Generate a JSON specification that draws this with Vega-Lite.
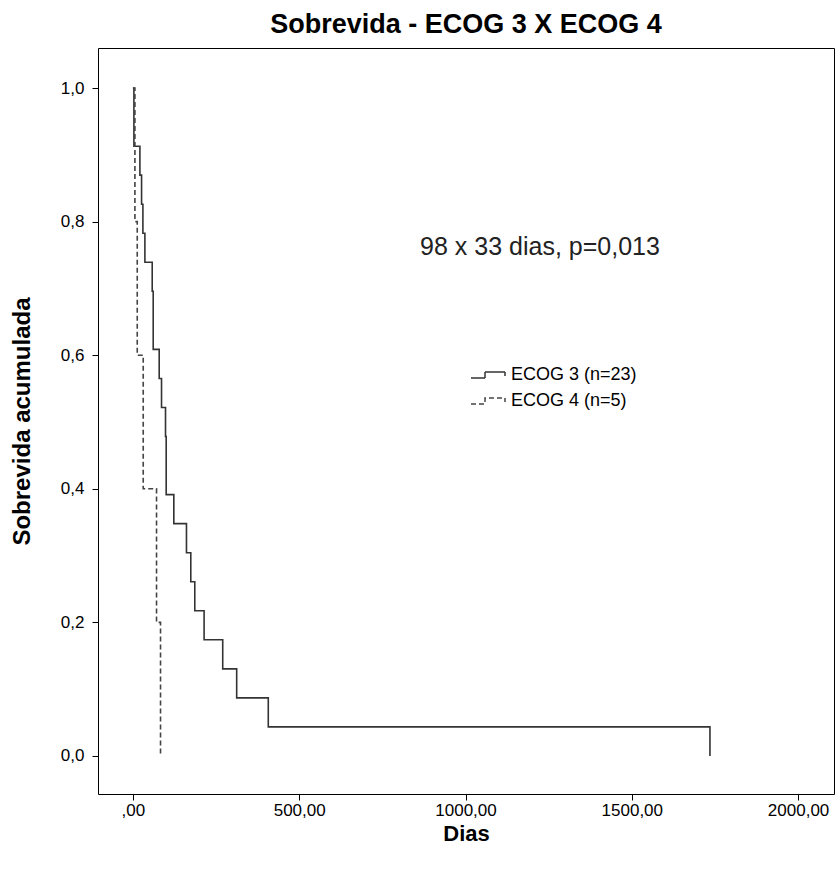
{
  "$schema": "https://vega.github.io/schema/vega-lite/v6.json",
  "width": 736,
  "height": 746,
  "autosize": {"type": "none"},
  "padding": {"left": 98, "top": 48, "right": 1, "bottom": 79},
  "background": "white",
  "config": {"font": "Liberation Sans", "view": {"stroke": "#000", "strokeWidth": 1}},
  "title": {"text": "Sobrevida - ECOG 3 X ECOG 4", "fontSize": 27, "fontWeight": "bold", "color": "#000", "anchor": "middle", "offset": 9},
  "layer": [
    {
      "data": {"values": [
        {"grupo": "ECOG 3 (n=23)", "dias": 0, "sobrevida": 1},
        {"grupo": "ECOG 3 (n=23)", "dias": 3, "sobrevida": 0.913},
        {"grupo": "ECOG 3 (n=23)", "dias": 21, "sobrevida": 0.8696},
        {"grupo": "ECOG 3 (n=23)", "dias": 26, "sobrevida": 0.8261},
        {"grupo": "ECOG 3 (n=23)", "dias": 30, "sobrevida": 0.7826},
        {"grupo": "ECOG 3 (n=23)", "dias": 36, "sobrevida": 0.7391},
        {"grupo": "ECOG 3 (n=23)", "dias": 58, "sobrevida": 0.6957},
        {"grupo": "ECOG 3 (n=23)", "dias": 61, "sobrevida": 0.6087},
        {"grupo": "ECOG 3 (n=23)", "dias": 79, "sobrevida": 0.5652},
        {"grupo": "ECOG 3 (n=23)", "dias": 86, "sobrevida": 0.5217},
        {"grupo": "ECOG 3 (n=23)", "dias": 98, "sobrevida": 0.4783},
        {"grupo": "ECOG 3 (n=23)", "dias": 100, "sobrevida": 0.3913},
        {"grupo": "ECOG 3 (n=23)", "dias": 123, "sobrevida": 0.3478},
        {"grupo": "ECOG 3 (n=23)", "dias": 161, "sobrevida": 0.3043},
        {"grupo": "ECOG 3 (n=23)", "dias": 174, "sobrevida": 0.2609},
        {"grupo": "ECOG 3 (n=23)", "dias": 186, "sobrevida": 0.2174},
        {"grupo": "ECOG 3 (n=23)", "dias": 214, "sobrevida": 0.1739},
        {"grupo": "ECOG 3 (n=23)", "dias": 270, "sobrevida": 0.1304},
        {"grupo": "ECOG 3 (n=23)", "dias": 312, "sobrevida": 0.087},
        {"grupo": "ECOG 3 (n=23)", "dias": 407, "sobrevida": 0.0435},
        {"grupo": "ECOG 3 (n=23)", "dias": 1735, "sobrevida": 0},
        {"grupo": "ECOG 4 (n=5)", "dias": 0, "sobrevida": 1},
        {"grupo": "ECOG 4 (n=5)", "dias": 6, "sobrevida": 0.8},
        {"grupo": "ECOG 4 (n=5)", "dias": 13, "sobrevida": 0.6},
        {"grupo": "ECOG 4 (n=5)", "dias": 31, "sobrevida": 0.4},
        {"grupo": "ECOG 4 (n=5)", "dias": 71, "sobrevida": 0.2},
        {"grupo": "ECOG 4 (n=5)", "dias": 83, "sobrevida": 0}
      ]},
      "mark": {"type": "line", "interpolate": "step-after", "strokeWidth": 1.6},
      "encoding": {
        "x": {
          "field": "dias", "type": "quantitative",
          "scale": {"domain": [-105, 2108], "nice": false, "zero": false},
          "axis": {
            "title": "Dias", "values": [0, 500, 1000, 1500, 2000],
            "labelExpr": "datum.value == 0 ? ',00' : replace(format(datum.value, '.2f'), '.', ',')",
            "grid": false, "domain": false, "tickSize": 6, "tickColor": "#000", "tickWidth": 1,
            "labelFontSize": 17, "labelColor": "#000", "labelPadding": 2,
            "titleFontSize": 22, "titleFontWeight": "bold", "titleColor": "#000", "titlePadding": 5
          }
        },
        "y": {
          "field": "sobrevida", "type": "quantitative",
          "scale": {"domain": [-0.057, 1.06], "nice": false, "zero": false},
          "axis": {
            "title": "Sobrevida acumulada", "values": [0, 0.2, 0.4, 0.6, 0.8, 1],
            "labelExpr": "replace(format(datum.value, '.1f'), '.', ',')",
            "grid": false, "domain": false, "tickSize": 6, "tickColor": "#000", "tickWidth": 1,
            "labelFontSize": 17, "labelColor": "#000", "labelPadding": 8,
            "titleFontSize": 24, "titleFontWeight": "bold", "titleColor": "#000", "titlePadding": 26
          }
        },
        "stroke": {
          "field": "grupo", "type": "nominal",
          "scale": {"domain": ["ECOG 3 (n=23)", "ECOG 4 (n=5)"], "range": ["#333333", "#444444"]},
          "legend": {
            "title": null, "orient": "none", "legendX": 380, "legendY": 316,
            "symbolType": "M-1.8,0.3L-0.4,0.3L-0.4,-0.3L1.6,-0.3L1.6,0.1",
            "symbolSize": 400, "symbolStrokeWidth": 1.5, "symbolFillColor": "transparent",
            "labelFontSize": 18, "labelOffset": 11, "rowPadding": 6, "labelColor": "#000"
          }
        },
        "strokeDash": {
          "field": "grupo", "type": "nominal",
          "scale": {"domain": ["ECOG 3 (n=23)", "ECOG 4 (n=5)"], "range": [[1, 0], [5, 3]]},
          "legend": {
            "title": null, "orient": "none", "legendX": 380, "legendY": 316,
            "symbolType": "M-1.8,0.3L-0.4,0.3L-0.4,-0.3L1.6,-0.3L1.6,0.1",
            "symbolSize": 400, "symbolStrokeWidth": 1.5, "symbolFillColor": "transparent",
            "labelFontSize": 18, "labelOffset": 11, "rowPadding": 6, "labelColor": "#000"
          }
        }
      }
    },
    {
      "data": {"values": [{"dias": 1224, "sobrevida": 0.762, "texto": "98 x 33 dias, p=0,013"}]},
      "mark": {"type": "text", "fontSize": 25, "color": "#222", "align": "center", "baseline": "middle"},
      "encoding": {
        "x": {"field": "dias", "type": "quantitative"},
        "y": {"field": "sobrevida", "type": "quantitative"},
        "text": {"field": "texto"}
      }
    }
  ]
}
